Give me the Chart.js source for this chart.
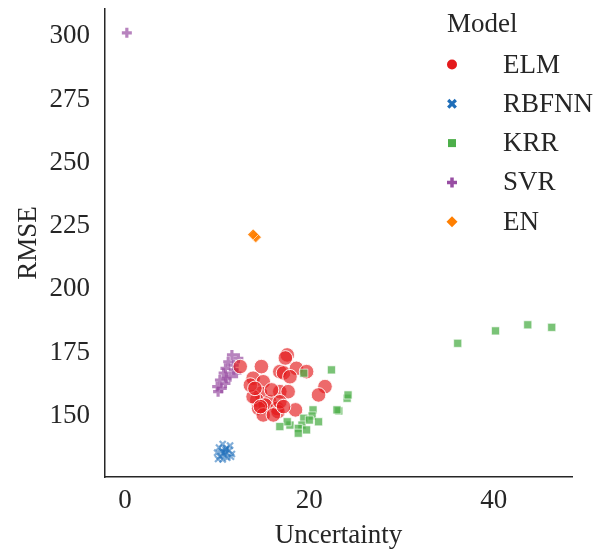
<!DOCTYPE html>
<html lang="en">
<head>
    <meta charset="UTF-8">
    <title>RMSE vs Uncertainty</title>
    <script src="https://cdn.jsdelivr.net/npm/chart.js"></script>
    <style>
        body {
            margin: 0;
            background: #fff;
        }
        canvas {
            display: block;
        }
    </style>
</head>
<body>
    <canvas id="scatter" width="607" height="549"></canvas>

    <script>
        // values
        const models = ['ELM', 'RBFNN', 'KRR', 'SVR', 'EN'];

        const elmX = [12.5, 17.6, 17.4, 14.8, 16.8, 17.2, 18.6, 19.7, 17.9, 13.9, 15.0, 21.7, 21.0, 14.7, 16.8,
                      17.7, 14.3, 15.7, 15.2, 14.5, 16.5, 15.0, 16.6, 18.5, 16.1, 16.8, 13.9, 15.9, 13.6, 14.1,
                      17.2, 14.7];
        const elmY = [169.5, 174.1, 172.9, 169.5, 167.5, 167.0, 168.8, 167.5, 165.5, 164.9, 163.5, 161.6, 158.3, 159.0, 159.6,
                      159.6, 156.3, 155.6, 154.3, 153.0, 153.0, 150.4, 151.7, 152.4, 150.4, 155.6, 157.6, 160.3, 162.2, 160.9,
                      153.7, 153.7];

        const rbfX = [10.2, 10.6, 11.0, 11.4, 10.0, 10.5, 10.9, 11.3, 11.6, 10.3, 10.8, 11.1, 10.6, 11.5, 10.1, 10.9, 10.7];
        const rbfY = [137.5, 138.9, 137.2, 138.3, 135.5, 136.2, 135.6, 136.4, 135.0, 134.0, 134.6, 133.5, 132.8, 133.9, 133.0, 136.8, 135.4];

        const krrX = [19.4, 22.4, 24.1, 24.2, 23.2, 23.0, 20.4, 20.3, 21.0, 19.4, 19.2, 17.9, 17.6, 18.8, 16.8,
                      19.7, 18.8, 20.0, 36.1, 40.2, 43.7, 46.3];
        const krrY = [166.9, 168.2, 157.0, 158.3, 152.0, 152.4, 152.4, 150.0, 147.7, 149.1, 146.4, 146.4, 147.7, 145.1, 145.8,
                      144.5, 143.2, 148.4, 178.7, 183.6, 186.0, 185.0];

        const svrX = [0.2, 11.6, 12.3, 11.2, 11.8, 10.9, 12.1, 10.7, 11.4, 10.3, 10.9, 10.0, 10.1, 10.5, 11.0, 11.8];
        const svrY = [301.3, 174.1, 172.8, 171.4, 170.1, 168.8, 166.9, 166.9, 165.5, 164.2, 162.9, 161.6, 159.6, 160.9, 164.9, 168.2];

        const enX = [14.1, 14.0, 14.2, 13.9];
        const enY = [220.8, 221.3, 220.6, 221.7];

        const xTicks = [0, 20, 40];
        const yTicks = [150, 175, 200, 225, 250, 275, 300];

        const ink = '#262626';
        const serif = { family: '"Liberation Serif", "DejaVu Serif", serif', size: 27 };

        function toPoints(xs, ys) {
            return xs.map((x, i) => ({ x: x, y: ys[i] }));
        }

        const styles = {
            ELM:   { pointStyle: 'circle',   pointRadius: 7.3, backgroundColor: 'rgba(228,26,28,0.65)', borderColor: 'rgba(255,255,255,0.9)', borderWidth: 1, order: 5, legendColor: '#e41a1c' },
            RBFNN: { pointStyle: 'crossRot', pointRadius: 4.3, backgroundColor: 'rgba(30,110,185,0.55)', borderColor: 'rgba(30,110,185,0.55)', borderWidth: 2.2, order: 1, legendColor: '#1f6eb9' },
            KRR:   { pointStyle: 'rect',     pointRadius: 5.7, backgroundColor: 'rgba(77,175,74,0.75)', borderColor: 'rgba(255,255,255,0.8)', borderWidth: 0.8, order: 2, legendColor: '#4daf4a' },
            SVR:   { pointStyle: 'cross',    pointRadius: 5,   backgroundColor: 'rgba(152,78,163,0.7)', borderColor: 'rgba(152,78,163,0.7)', borderWidth: 3.2, order: 6, legendColor: '#984ea3' },
            EN:    { pointStyle: 'rectRot',  pointRadius: 5.5, backgroundColor: 'rgba(255,127,0,0.85)', borderColor: 'rgba(255,255,255,0.8)', borderWidth: 0.8, order: 3, legendColor: '#ff7f00' }
        };

        const seriesX = [elmX, rbfX, krrX, svrX, enX];
        const seriesY = [elmY, rbfY, krrY, svrY, enY];

        const datasets = models.map((name, i) => {
            const s = styles[name];
            return {
                label: name,
                data: toPoints(seriesX[i], seriesY[i]),
                pointStyle: s.pointStyle,
                pointRadius: s.pointRadius,
                pointHoverRadius: s.pointRadius,
                backgroundColor: s.backgroundColor,
                borderColor: s.borderColor,
                borderWidth: s.borderWidth,
                order: s.order
            };
        });

        // small marker shapes for the legend
        function drawMarker(ctx, style, x, y, color) {
            ctx.save();
            ctx.fillStyle = color;
            ctx.strokeStyle = color;
            ctx.beginPath();
            if (style === 'circle') {
                ctx.arc(x, y, 5, 0, Math.PI * 2);
                ctx.fill();
            } else if (style === 'rect') {
                ctx.fillRect(x - 4, y - 4, 8, 8);
            } else if (style === 'rectRot') {
                ctx.moveTo(x, y - 5.5); ctx.lineTo(x + 5.5, y); ctx.lineTo(x, y + 5.5); ctx.lineTo(x - 5.5, y);
                ctx.closePath();
                ctx.fill();
            } else if (style === 'cross') {
                ctx.lineWidth = 3.5;
                ctx.moveTo(x - 5, y); ctx.lineTo(x + 5, y);
                ctx.moveTo(x, y - 5); ctx.lineTo(x, y + 5);
                ctx.stroke();
            } else if (style === 'crossRot') {
                ctx.lineWidth = 3.2;
                ctx.moveTo(x - 3.8, y - 3.8); ctx.lineTo(x + 3.8, y + 3.8);
                ctx.moveTo(x + 3.8, y - 3.8); ctx.lineTo(x - 3.8, y + 3.8);
                ctx.stroke();
            }
            ctx.restore();
        }

        const legendPlugin = {
            id: 'modelLegend',
            afterDraw(chart) {
                const ctx = chart.ctx;
                ctx.save();
                ctx.font = serif.size + 'px ' + serif.family;
                ctx.fillStyle = ink;
                ctx.textBaseline = 'middle';
                ctx.textAlign = 'left';
                ctx.fillText('Model', 447, 25);
                models.forEach((name, i) => {
                    const y = 64.5 + i * 39.3;
                    drawMarker(ctx, styles[name].pointStyle, 452, y, styles[name].legendColor);
                    ctx.fillStyle = ink;
                    ctx.fillText(name, 503, y + 1);
                });
                ctx.restore();
            }
        };

        // keep the plot box where the reference has it
        function noEdgePadding(s) {
            s.paddingTop = 0;
            s.paddingBottom = 0;
            s.paddingLeft = 0;
            s.paddingRight = 0;
        }

        new Chart(document.getElementById('scatter').getContext('2d'), {
            type: 'scatter',
            data: { datasets: datasets },
            plugins: [legendPlugin],
            options: {
                responsive: false,
                animation: false,
                layout: { padding: { top: 9, right: 35, left: 0, bottom: 0 } },
                plugins: {
                    legend: { display: false },
                    tooltip: { enabled: false }
                },
                scales: {
                    x: {
                        type: 'linear',
                        min: -2.17,
                        max: 48.5,
                        grid: { display: false, drawTicks: false },
                        border: { display: true, color: ink, width: 1.5 },
                        afterBuildTicks: s => { s.ticks = xTicks.map(v => ({ value: v })); },
                        ticks: { padding: 8, font: serif, color: ink },
                        title: { display: true, text: 'Uncertainty', font: { family: serif.family, size: serif.size, lineHeight: 1 }, color: ink, padding: 0 },
                        afterFit: s => { s.height = 72; noEdgePadding(s); }
                    },
                    y: {
                        type: 'linear',
                        min: 125.9,
                        max: 310.7,
                        grid: { display: false, drawTicks: false },
                        border: { display: true, color: ink, width: 1.5 },
                        afterBuildTicks: s => { s.ticks = yTicks.map(v => ({ value: v })); },
                        ticks: { padding: 15, font: serif, color: ink },
                        title: { display: true, text: 'RMSE', font: serif, color: ink, padding: { top: 13, bottom: 0 } },
                        afterFit: s => { s.width = 105; noEdgePadding(s); }
                    }
                }
            }
        });
    </script>
</body>
</html>
